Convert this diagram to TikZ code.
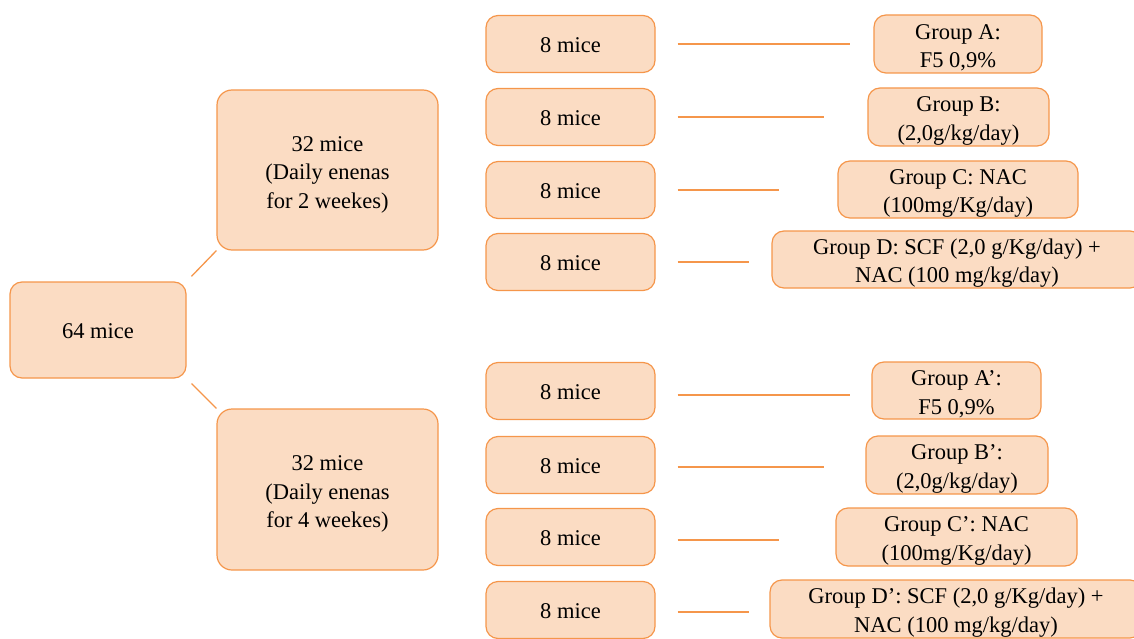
\documentclass[tikz,border=0pt]{standalone}
\usepackage{fontspec}
\setmainfont{Liberation Serif}
\definecolor{boxfill}{RGB}{251,220,195}
\definecolor{boxline}{RGB}{245,150,75}
\begin{document}
\begin{tikzpicture}[
    x=1pt, y=-1pt,
    font=\fontsize{22.5}{28.5}\selectfont,
    every node/.style={align=center, inner sep=0pt},
    box/.style={draw=boxline, fill=boxfill, line width=1.2pt, rounded corners=12pt, text height=51pt},
    mice/.style={box, minimum width=169pt, minimum height=57pt, text height=17.5pt},
    link/.style={draw=boxline, line width=1.3pt}
]
\useasboundingbox (0,0) rectangle (1134,639);


\node[box, minimum width=176pt, minimum height=96pt, text height=17.5pt] (all) at (98,330) {64 mice};

\node[box, minimum width=221pt, minimum height=160pt, rounded corners=15pt, text height=81.5pt] (two) at (327.5,170)
    {32 mice\\(Daily enenas\\for 2 weekes)};
\node[box, minimum width=221pt, minimum height=161pt, rounded corners=15pt, text height=81.5pt] (four) at (327.5,489.5)
    {32 mice\\(Daily enenas\\for 4 weekes)};

\draw[link, shorten <=7pt] (all.north east) -- (two.south west);
\draw[link, shorten <=7pt] (all.south east) -- (four.north west);


\node[mice] (mA) at (570.5,44) {8 mice};
\node[mice] (mB) at (570.5,117) {8 mice};
\node[mice] (mC) at (570.5,190) {8 mice};
\node[mice] (mD) at (570.5,262) {8 mice};

\node[mice] (mA2) at (570.5,391) {8 mice};
\node[mice] (mB2) at (570.5,465) {8 mice};
\node[mice] (mC2) at (570.5,537) {8 mice};
\node[mice] (mD2) at (570.5,610) {8 mice};


\node[box, minimum width=168pt, minimum height=58pt] (gA) at (958,44) {Group A:\\F5 0,9\%};
\node[box, minimum width=181pt, minimum height=58pt] (gB) at (958.5,117) {Group B:\\(2,0g/kg/day)};
\node[box, minimum width=240pt, minimum height=57pt] (gC) at (958,189.5) {Group C: NAC\\(100mg/Kg/day)};
\node[box, minimum width=370pt, minimum height=57pt] (gD) at (957,259.5)
    {Group D: SCF (2,0 g/Kg/day) +\\NAC (100 mg/kg/day)};

\node[box, minimum width=169pt, minimum height=57pt] (gA2) at (956.5,390.5) {Group A’:\\F5 0,9\%};
\node[box, minimum width=182pt, minimum height=58pt] (gB2) at (957,465) {Group B’:\\(2,0g/kg/day)};
\node[box, minimum width=241pt, minimum height=58pt] (gC2) at (956.5,537) {Group C’: NAC\\(100mg/Kg/day)};
\node[box, minimum width=372pt, minimum height=58pt] (gD2) at (956,609)
    {Group D’: SCF (2,0 g/Kg/day) +\\NAC (100 mg/kg/day)};


\draw[link, shorten <=22pt, shorten >=23pt] (mA.east) -- (mA.east -| gA.west);
\draw[link, shorten <=22pt, shorten >=43pt] (mB.east) -- (mB.east -| gB.west);
\draw[link, shorten <=22pt, shorten >=58pt] (mC.east) -- (mC.east -| gC.west);
\draw[link, shorten <=22pt, shorten >=22pt] (mD.east) -- (mD.east -| gD.west);

\draw[link, shorten <=22pt, shorten >=21pt] ([yshift=-4pt]mA2.east) -- ([yshift=-4pt]mA2.east -| gA2.west);
\draw[link, shorten <=22pt, shorten >=41pt] ([yshift=-2pt]mB2.east) -- ([yshift=-2pt]mB2.east -| gB2.west);
\draw[link, shorten <=22pt, shorten >=56pt] ([yshift=-3pt]mC2.east) -- ([yshift=-3pt]mC2.east -| gC2.west);
\draw[link, shorten <=22pt, shorten >=20pt] ([yshift=-2pt]mD2.east) -- ([yshift=-2pt]mD2.east -| gD2.west);

\end{tikzpicture}
\end{document}
